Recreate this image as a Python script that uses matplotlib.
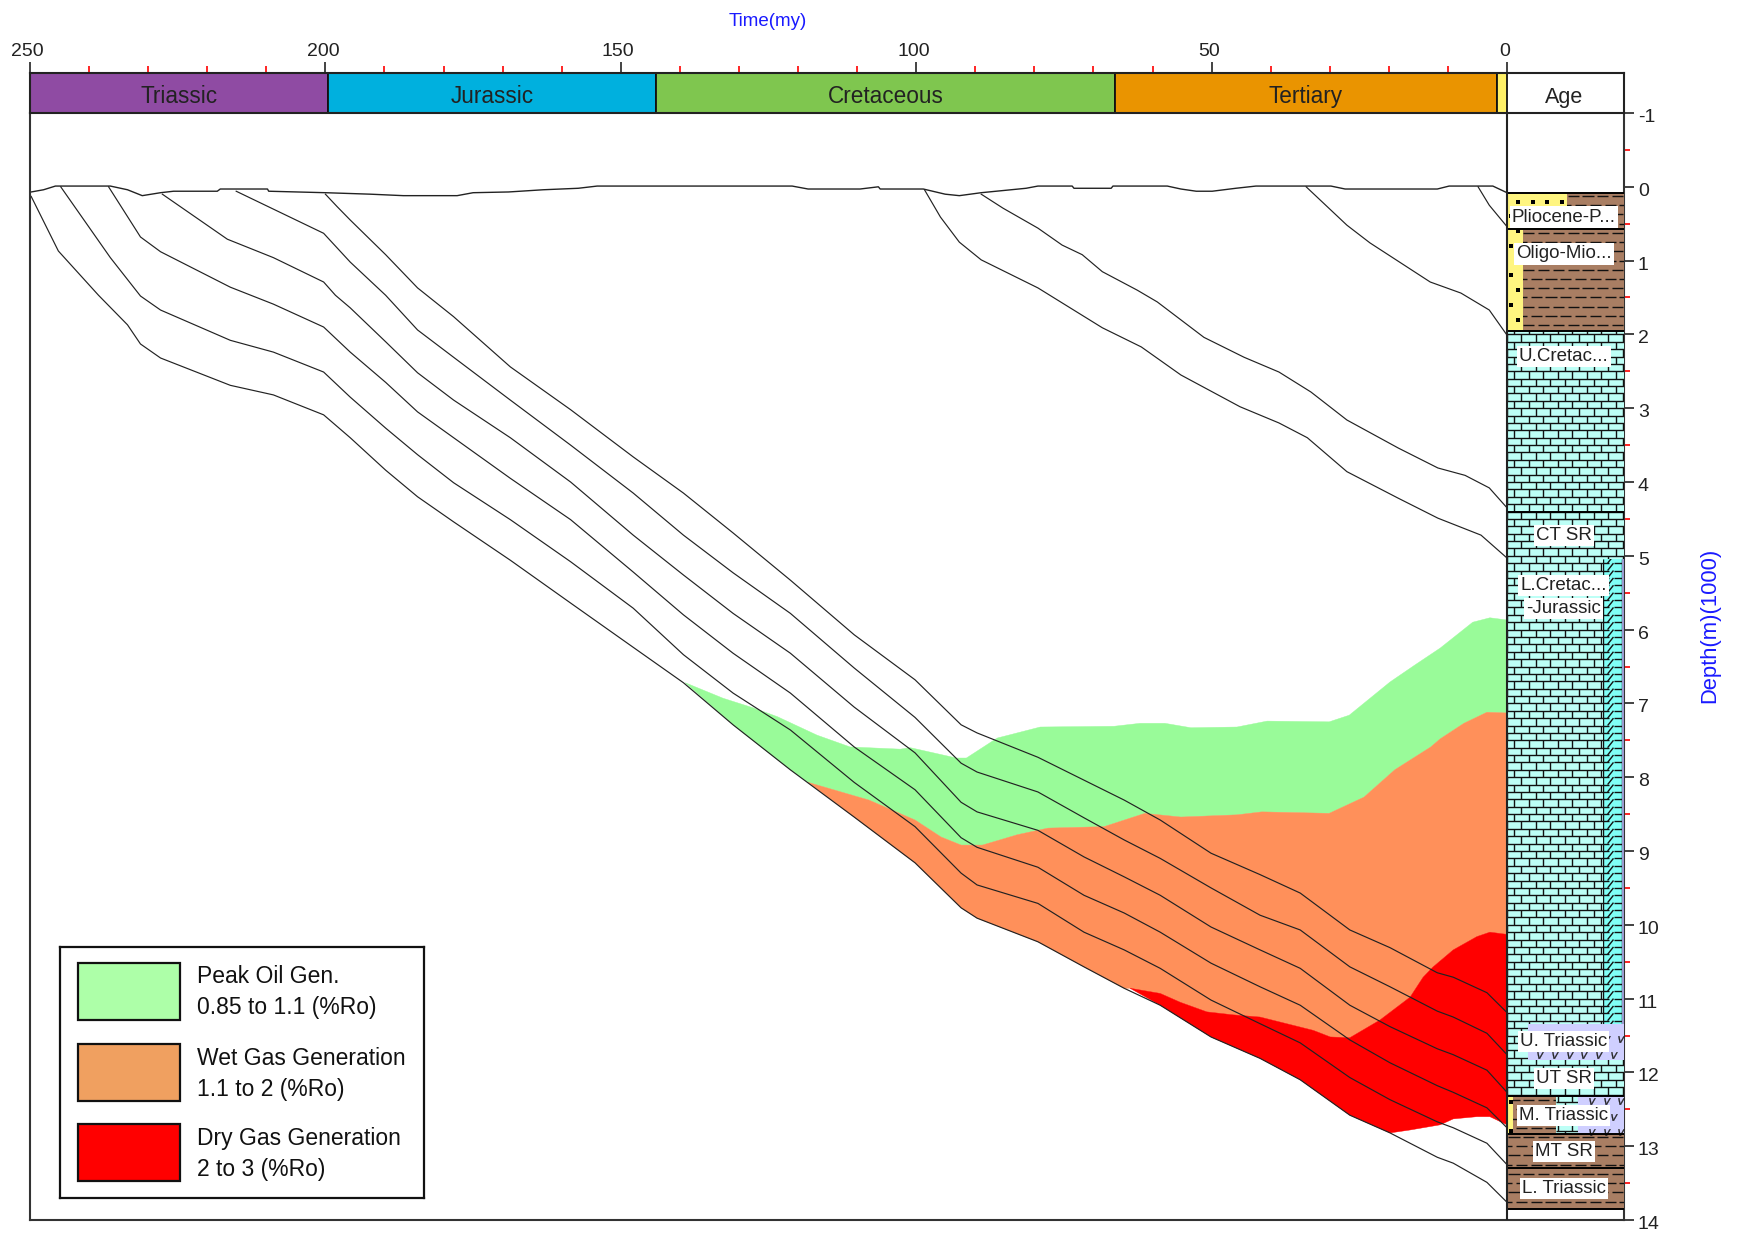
import numpy as np
import matplotlib
matplotlib.use("Agg")
import matplotlib.pyplot as plt
from matplotlib.collections import LineCollection
from matplotlib.patches import Rectangle
from matplotlib.transforms import ScaledTranslation

plt.rcParams['font.family'] = ['Liberation Sans', 'DejaVu Sans']
plt.rcParams['axes.unicode_minus'] = False

W, H = 1741, 1234

# ---- burial history (age in my, depth in km) ----
t_tail = [195.8, 189.8, 184.4, 178.3, 168.7, 158.5, 147.9, 139.4, 131.0, 121.3,
          110.5, 100.2, 92.4, 89.7, 79.4, 71.6, 64.8, 58.7, 50.1, 41.8,
          35.0, 26.6, 19.8, 11.8, 9.1, 3.4, 0.0]

surface_t = [249.8, 247.7, 245.7, 236.4, 233.5, 231.0, 227.9, 225.7, 218.3, 217.8, 209.8, 209.6,
             200.0, 192.4, 186.8, 177.7, 175.0, 169.0, 163.1, 157.2, 154.0, 121.0, 118.3, 109.5,
             106.4, 106.1, 98.8, 95.1, 92.7, 89.0, 81.4, 79.4, 73.6, 73.3, 67.0, 66.7, 57.5, 55.2,
             52.6, 49.9, 45.9, 42.5, 29.8, 27.4, 11.8, 9.8, 2.4, 0.0]
surface_d = [0.07, 0.04, -0.01, -0.01, 0.04, 0.12, 0.08, 0.06, 0.06, 0.03, 0.03, 0.06,
             0.08, 0.10, 0.12, 0.12, 0.08, 0.07, 0.04, 0.02, -0.01, -0.01, 0.03, 0.03,
             0.00, 0.03, 0.03, 0.10, 0.12, 0.08, 0.02, -0.01, -0.01, 0.02, 0.02, -0.01, -0.01, 0.03,
             0.06, 0.06, 0.02, -0.01, -0.01, 0.03, 0.03, -0.01, -0.01, 0.08]

c1_t = [200.0, 198.0] + t_tail
c1_d = [0.10, 0.27, 0.45, 0.92, 1.37, 1.76, 2.44, 3.02, 3.66, 4.15, 4.69, 5.33, 6.07, 6.68, 7.29,
        7.40, 7.73, 8.04, 8.31, 8.58, 9.03, 9.32, 9.57, 10.07, 10.31, 10.65, 10.71, 10.92, 11.19]

c2_t = [215.1, 200.3] + t_tail
c2_d = [0.06, 0.63, 1.02, 1.47, 1.94, 2.31, 2.89, 3.50, 4.15, 4.72, 5.23, 5.78, 6.52, 7.19, 7.81,
        7.93, 8.20, 8.55, 8.85, 9.10, 9.50, 9.87, 10.07, 10.57, 10.84, 11.17, 11.25, 11.47, 11.76]

c3_t = [227.6, 216.6, 208.8, 200.3, 198.3] + t_tail
c3_d = [0.10, 0.71, 0.96, 1.29, 1.47, 1.64, 2.10, 2.52, 2.89, 3.40, 4.00, 4.72, 5.26, 5.78, 6.32,
        7.05, 7.67, 8.34, 8.47, 8.72, 9.08, 9.35, 9.60, 10.03, 10.34, 10.59, 11.09, 11.38, 11.68,
        11.76, 11.97, 12.27]

c4_t = [236.7, 231.3, 227.9, 216.1, 208.8, 200.3] + t_tail
c4_d = [0.00, 0.68, 0.88, 1.36, 1.59, 1.90, 2.24, 2.65, 3.05, 3.40, 3.95, 4.51, 5.22, 5.80, 6.32,
        6.86, 7.59, 8.17, 8.82, 8.95, 9.22, 9.60, 9.84, 10.10, 10.52, 10.84, 11.09, 11.56, 11.87,
        12.18, 12.27, 12.48, 12.75]

c5_t = [244.8, 236.4, 231.3, 227.9, 216.1, 208.8, 200.3] + t_tail
c5_d = [0.00, 0.96, 1.48, 1.67, 2.08, 2.24, 2.51, 2.85, 3.27, 3.63, 4.01, 4.51, 5.08, 5.71, 6.34,
        6.86, 7.36, 8.07, 8.67, 9.30, 9.46, 9.71, 10.10, 10.34, 10.59, 11.02, 11.34, 11.60, 12.07,
        12.37, 12.67, 12.75, 12.96, 13.25]

c6_t = [249.8, 245.2, 238.4, 233.5, 231.3, 227.9, 216.1, 208.8, 200.3] + t_tail
c6_d = [0.13, 0.87, 1.47, 1.87, 2.13, 2.32, 2.69, 2.82, 3.09, 3.40, 3.84, 4.20, 4.54, 5.06, 5.64,
        6.24, 6.72, 7.29, 7.90, 8.54, 9.16, 9.77, 9.91, 10.23, 10.57, 10.86, 11.09, 11.52, 11.81,
        12.10, 12.58, 12.82, 13.15, 13.23, 13.49, 13.76]

c7_t = [89.0, 85.3, 79.4, 75.3, 71.9, 68.5, 62.6, 59.2, 51.3, 44.5, 38.6, 33.2, 27.1, 18.4, 11.7, 7.1, 3.0, 0.0]
c7_d = [0.10, 0.29, 0.56, 0.79, 0.92, 1.15, 1.40, 1.56, 2.04, 2.31, 2.51, 2.78, 3.16, 3.54, 3.81, 3.91, 4.08, 4.35]

c8_t = [98.6, 95.9, 92.7, 89.0, 79.4, 68.5, 61.9, 55.2, 45.2, 38.6, 33.8, 27.1, 18.4, 11.7, 4.4, 0.0]
c8_d = [0.04, 0.41, 0.75, 0.99, 1.37, 1.91, 2.17, 2.55, 2.98, 3.20, 3.40, 3.86, 4.22, 4.49, 4.72, 5.03]

c9_t = [34.0, 27.1, 23.2, 13.0, 7.8, 3.0, 0.0]
c9_d = [0.00, 0.52, 0.76, 1.29, 1.44, 1.67, 2.01]

c10_t = [4.9, 3.0, 0.0]
c10_d = [0.00, 0.25, 0.54]

# ---- maturity windows ----
oil_t = [139.1, 132.7, 127.6, 123.5, 116.8, 111.2, 102.7, 101.0, 93.2, 91.5, 86.3, 79.0, 66.5,
         62.1, 57.9, 53.5, 45.7, 40.6, 30.1, 26.7, 19.8, 15.6, 11.3, 5.8, 2.9, 0.0]
oil_d = [6.72, 6.93, 7.06, 7.18, 7.43, 7.59, 7.62, 7.60, 7.74, 7.74, 7.47, 7.32, 7.31,
         7.27, 7.27, 7.33, 7.32, 7.24, 7.25, 7.16, 6.71, 6.48, 6.25, 5.90, 5.84, 5.87]

wet_t = [118.3, 108.0, 100.2, 95.8, 92.4, 88.8, 82.9, 77.7, 68.2, 61.3, 55.2, 45.7, 41.5, 30.1,
         24.2, 19.0, 12.9, 11.3, 7.3, 3.4, 0.0]
wet_d = [8.07, 8.31, 8.58, 8.81, 8.92, 8.92, 8.78, 8.69, 8.67, 8.49, 8.54, 8.51, 8.47, 8.49,
         8.27, 7.90, 7.59, 7.48, 7.27, 7.12, 7.13]

dry_t = [63.8, 58.7, 55.3, 50.8, 46.4, 41.8, 32.8, 29.9, 26.6, 21.5, 16.4, 14.2, 12.5, 9.1, 5.1, 2.9, 0.0]
dry_d = [10.86, 10.93, 11.05, 11.18, 11.22, 11.25, 11.43, 11.52, 11.53, 11.29, 10.98, 10.71, 10.57,
         10.34, 10.16, 10.10, 10.13]

dry_low_t = [19.8, 16.4, 11.3, 9.1, 5.1, 2.9, 0.0]
dry_low_d = [12.82, 12.78, 12.71, 12.63, 12.60, 12.60, 12.71]

# ---- periods ----
period_names = ['Triassic', 'Jurassic', 'Cretaceous', 'Tertiary', '']
period_start = [250.0, 199.5, 144.0, 66.4, 1.7]
period_end = [199.5, 144.0, 66.4, 1.7, 0.0]
period_colors = ['#8F4BA3', '#00B0DE', '#7FC64F', '#EA9400', '#FFF066']

# ---- stratigraphic column: top, base, left, right (x is past the 0 my line) ----
layer_top = [0.09, 0.09, 0.57, 0.57, 1.96, 5.05, 5.05, 5.05, 11.34, 11.34, 11.83, 12.32, 12.32, 12.32, 12.32, 12.83, 13.30]
layer_base = [0.57, 0.57, 1.96, 1.96, 5.05, 11.34, 11.34, 11.34, 11.83, 11.83, 12.32, 12.83, 12.83, 12.83, 12.83, 13.30, 13.85]
layer_x0 = [0.0, -10.15, 0.0, -2.7, 0.0, 0.0, -16.2, -19.5, 0.0, -3.55, 0.0, 0.0, -1.0, -8.3, -12.0, 0.0, 0.0]
layer_x1 = [-10.15, -19.8, -2.7, -19.8, -19.8, -16.2, -19.5, -19.8, -3.55, -19.8, -19.8, -1.0, -8.3, -12.0, -19.8, -19.8, -19.8]
layer_kind = ['sand', 'shale', 'sand', 'shale', 'lime', 'lime', 'dolo', 'strip', 'lime', 'volc', 'lime',
              'sand', 'shale', 'lime', 'volc', 'shale', 'shale']
layer_lines = [0.09, 0.57, 1.96, 4.40, 12.32, 12.83, 13.30, 13.85]

col_labels = ['Pliocene-P...', 'Oligo-Mio...', 'U.Cretac...', 'CT SR', 'L.Cretac...', '-Jurassic',
              'U. Triassic', 'UT SR', 'M. Triassic', 'MT SR', 'L. Triassic']
col_label_d = [0.41, 0.91, 2.30, 4.73, 5.40, 5.72, 11.58, 12.08, 12.58, 13.07, 13.57]

legend_labels = ['Peak Oil Gen.\n0.85 to 1.1 (%Ro)', 'Wet Gas Generation\n1.1 to 2 (%Ro)', 'Dry Gas Generation\n2 to 3 (%Ro)']
legend_colors = ['#ADFFA8', '#F0A060', '#FF0000']
OIL, WET, DRY = '#99FB99', '#FF905A', '#FF0000'
INK = '#222222'


def fill_pattern(ax, x0, x1, y0, y1, kind):
    colors = {'sand': '#FFF580', 'shale': '#A97E63', 'lime': '#BDFFF6', 'dolo': '#80FFF6',
              'volc': '#CFCFFF', 'strip': '#9A9AD0'}
    rect = Rectangle((x0, y0), x1 - x0, y1 - y0, fc=colors[kind], ec='none', zorder=3)
    ax.add_patch(rect)
    segs = []
    rows = np.arange(0, 14, 0.1)
    rows = rows[(rows >= y0 - 0.1) & (rows <= y1)]
    if kind == 'lime':
        for k, r in enumerate(np.round(rows / 0.1).astype(int)):
            segs.append([(x0, rows[k]), (x1, rows[k])])
            for xv in np.arange(0, -20, -2.45) - 1.225 * (r % 2):
                segs.append([(xv, rows[k]), (xv, rows[k] + 0.1)])
    elif kind == 'shale':
        for k, yv in enumerate(np.arange(0, 14, 0.125)):
            for xv in np.arange(1, -21, -2.5) - 1.25 * (k % 2):
                segs.append([(xv, yv), (xv - 1.9, yv)])
    elif kind == 'dolo':
        for yv in rows:
            segs.append([(x0 + (x1 - x0) * 0.25, yv + 0.1), (x0 + (x1 - x0) * 0.55, yv)])
            segs.append([(x0, yv), (x0 + (x1 - x0) * 0.3, yv)])
            segs.append([(x0 + (x1 - x0) * 0.6, yv), (x1, yv)])
        segs.append([(x0, y0), (x0, y1)])
        segs.append([(x1, y0), (x1, y1)])
    if segs:
        lc = LineCollection(segs, colors='#111111', linewidths=1.0, zorder=3.1)
        ax.add_collection(lc)
        lc.set_clip_path(rect)
    if kind == 'sand':
        xs, ys = [], []
        for k, yv in enumerate(np.arange(0, 14, 0.2)):
            for xv in np.arange(-0.6, -21, -2.5) - 1.25 * (k % 2):
                if y0 < yv < y1 and x1 < xv < x0:
                    xs.append(xv)
                    ys.append(yv)
        ax.scatter(xs, ys, s=7, c='k', marker='s', lw=0, zorder=3.1)
    if kind == 'volc':
        xs, ys = [], []
        for k, yv in enumerate(np.arange(0, 14, 0.21)):
            for xv in np.arange(-0.6, -21, -2.5) - 1.25 * (k % 2):
                if y0 + 0.02 < yv < y1 - 0.02 and x1 < xv < x0:
                    xs.append(xv)
                    ys.append(yv)
        ax.scatter(xs, ys, s=22, c='#222222', marker='$v$', lw=0.2, zorder=3.1)


fig = plt.figure(figsize=(W / 100, H / 100), dpi=100)
ax = fig.add_axes([30 / W, 1 - 1220 / H, 1594 / W, 1107 / H])
ax_top = fig.add_axes([30 / W, 1 - 113 / H, 1594 / W, 40 / H])

# maturity windows, lower edge follows the deepest burial curve
c6t, c6d = np.array(c6_t), np.array(c6_d)
m = (c6t <= oil_t[0]) & (c6t >= wet_t[0])
ax.fill(np.r_[oil_t, wet_t[::-1], c6t[m][::-1]], np.r_[oil_d, wet_d[::-1], c6d[m][::-1]],
        fc=OIL, ec=OIL, lw=0.3, zorder=1)
m = (c6t <= wet_t[0]) & (c6t >= dry_t[0])
ax.fill(np.r_[wet_t, dry_t[::-1], c6t[m][::-1]], np.r_[wet_d, dry_d[::-1], c6d[m][::-1]],
        fc=WET, ec=WET, lw=0.3, zorder=1.1)
m = (c6t <= dry_t[0]) & (c6t >= dry_low_t[0])
ax.fill(np.r_[dry_t, dry_low_t[::-1], c6t[m][::-1]], np.r_[dry_d, dry_low_d[::-1], c6d[m][::-1]],
        fc=DRY, ec=DRY, lw=0.3, zorder=1.2)

ax.plot(surface_t, surface_d, color=INK, lw=1.0, zorder=2)
for t, d in [(c1_t, c1_d), (c2_t, c2_d), (c3_t, c3_d), (c4_t, c4_d), (c5_t, c5_d), (c6_t, c6_d),
             (c7_t, c7_d), (c8_t, c8_d), (c9_t, c9_d), (c10_t, c10_d)]:
    ax.plot(t, d, color=INK, lw=0.85, zorder=2)

# stratigraphic column
for i in range(len(layer_kind)):
    fill_pattern(ax, layer_x0[i], layer_x1[i], layer_top[i], layer_base[i], layer_kind[i])
for yv in layer_lines:
    ax.plot([0, -19.8], [yv, yv], color='k', lw=1.4, zorder=3.2)
for name, yv in zip(col_labels, col_label_d):
    ax.text(-9.6, yv, name, ha='center', va='center', fontsize=13.5, color='#222222', zorder=4,
            bbox=dict(fc='white', ec='none', pad=1.5))
ax.axvline(0, color='#222222', lw=1.5, zorder=3.5)

ax.set_xlim(250, -19.8)
ax.set_ylim(14, -1)
ax.set_xticks([])
ax.yaxis.tick_right()
ax.set_yticks(range(-1, 15))
ax.set_yticks(np.arange(-0.5, 14, 1), minor=True)
ax.tick_params(axis='y', which='major', length=7, width=1.2, color='#222222', labelsize=14,
               labelcolor='#222222', pad=3)
ax.tick_params(axis='y', which='minor', length=4.5, width=1.2, color='red')
for s in ['left', 'right', 'bottom']:
    ax.spines[s].set_linewidth(1.5)
    ax.spines[s].set_color('#333333')
ax.spines['top'].set_visible(False)
shift_down = ScaledTranslation(0, -2.5 / 100, fig.dpi_scale_trans)
for lbl in ax.get_yticklabels():
    lbl.set_transform(lbl.get_transform() + shift_down)

# period band along the top
starts, ends = np.array(period_start), np.array(period_end)
ax_top.bar(ends, 1, width=starts - ends, align='edge', color=period_colors, edgecolor='#111111', lw=1.3)
for name, a, b in zip(period_names, period_start, period_end):
    ax_top.text((a + b) / 2, 0.42, name, ha='center', va='center', fontsize=16.3, color='#222222')
ax_top.text(-9.6, 0.38, 'Age', ha='center', va='center', fontsize=15.5, color='#222222')
ax_top.set_xlim(250, -19.8)
ax_top.set_ylim(0, 1)
ax_top.set_yticks([])
ax_top.xaxis.tick_top()
ax_top.set_xticks(range(0, 251, 50))
ax_top.set_xticks(range(0, 251, 10), minor=True)
ax_top.tick_params(axis='x', which='major', length=8, width=1.2, color='#222222', labelsize=14,
                   labelcolor='#222222', pad=1)
ax_top.tick_params(axis='x', which='minor', length=5, width=1.2, color='red')
for s in ax_top.spines.values():
    s.set_linewidth(1.5)
    s.set_color('#222222')
shift_left = ScaledTranslation(-2.5 / 100, 0, fig.dpi_scale_trans)
for lbl in ax_top.get_xticklabels():
    lbl.set_transform(lbl.get_transform() + shift_left)

fig.text(768 / W, 1 - 22 / H, 'Time(my)', color='#1A1AFF', fontsize=13.5, ha='center', va='center')
fig.text(1710 / W, 1 - 625 / H, 'Depth(m)(1000)', color='#1A1AFF', fontsize=15.8, rotation=90,
         ha='center', va='center')

# legend box, laid out in picture pixels
ax_leg = fig.add_axes([60 / W, 1 - 1198 / H, 364 / W, 251 / H], zorder=5)
ax_leg.set_xlim(60, 424)
ax_leg.set_ylim(1198, 947)
ax_leg.set_xticks([])
ax_leg.set_yticks([])
for s in ax_leg.spines.values():
    s.set_linewidth(1.6)
    s.set_color('#111111')
swatch_top = [963, 1044, 1124]
text_mid = [992, 1074, 1154]
for i in range(3):
    ax_leg.add_patch(Rectangle((78, swatch_top[i]), 102, 57, fc=legend_colors[i], ec='#111111', lw=1.6))
    ax_leg.text(197, text_mid[i], legend_labels[i], fontsize=16.5, color='#111111', va='center',
                ha='left', linespacing=1.42)

fig.savefig('out.png', dpi=100)
